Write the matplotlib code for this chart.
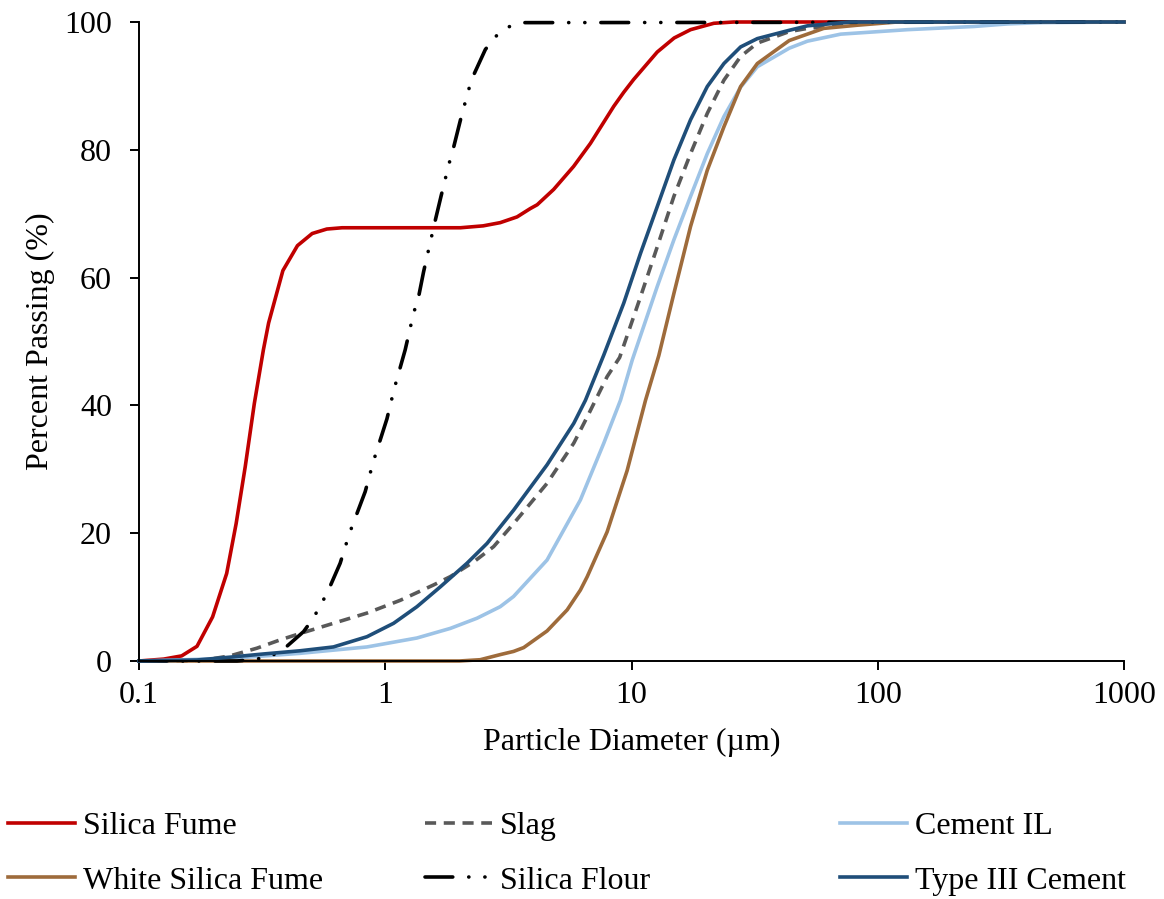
import matplotlib
matplotlib.use("Agg")
import matplotlib.pyplot as plt
from matplotlib.ticker import NullLocator

plt.rcParams["font.family"] = ["Liberation Serif", "DejaVu Serif"]
plt.rcParams["lines.scale_dashes"] = False

# particle diameter (um) / percent passing
sf_x = [0.1, 0.126, 0.149, 0.172, 0.199, 0.227, 0.248, 0.270, 0.294, 0.320, 0.336,
        0.384, 0.440, 0.505, 0.579, 0.668, 1.0, 2.02, 2.50, 2.93, 3.43, 3.88, 4.14,
        4.83, 5.82, 6.81, 8.47, 9.30, 10.2, 12.72, 14.9, 17.37, 21.6, 26.0, 1000]
sf_y = [0, 0.3, 0.8, 2.3, 6.9, 13.7, 21.5, 30.4, 40.3, 48.7, 52.9,
        61.1, 65.0, 66.9, 67.6, 67.8, 67.8, 67.8, 68.1, 68.6, 69.5, 70.8, 71.4,
        73.8, 77.4, 81.0, 86.8, 89.0, 91.0, 95.3, 97.5, 98.8, 99.8, 100, 100]

slag_x = [0.1, 0.16, 0.188, 0.234, 0.301, 0.374, 0.451, 0.616, 0.843, 1.151, 1.571,
          1.837, 2.285, 2.755, 3.32, 4.54, 5.83, 6.61, 7.96, 8.95, 10.88, 12.72,
          14.86, 17.37, 20.31, 23.73, 27.74, 32.43, 43.7, 51.8, 70.7, 100, 1000]
slag_y = [0, 0, 0.2, 0.8, 2.0, 3.3, 4.3, 5.9, 7.5, 9.5, 11.9,
          13.2, 15.5, 17.9, 21.5, 27.8, 34.1, 38.2, 44.5, 47.5, 57.0, 64.8,
          72.7, 79.4, 85.7, 90.9, 94.6, 96.7, 98.5, 99.0, 99.5, 100, 100]

cil_x = [0.1, 0.234, 0.451, 0.843, 1.345, 1.837, 2.36, 2.93, 3.32, 4.54, 6.20, 7.72,
         9.02, 10.07, 12.72, 14.86, 17.37, 20.31, 23.73, 27.74, 32.43, 43.7, 51.8,
         70.7, 132, 246, 337, 460, 1000]
cil_y = [0, 0.4, 1.2, 2.2, 3.6, 5.1, 6.7, 8.5, 10.1, 15.8, 25.2, 34.1,
         40.8, 47.1, 58.6, 65.9, 72.7, 79.4, 85.2, 89.8, 93.0, 95.9, 97.0,
         98.1, 98.8, 99.3, 99.7, 99.9, 100]

wsf_x = [0.1, 1.0, 2.0, 2.43, 2.93, 3.32, 3.65, 4.54, 5.48, 6.20, 6.61, 7.96, 9.60,
         11.4, 12.91, 14.86, 17.37, 20.31, 23.73, 27.74, 32.43, 43.7, 60.3, 82.7,
         120, 1000]
wsf_y = [0, 0, 0, 0.2, 1.0, 1.5, 2.1, 4.7, 8.0, 11.1, 13.2, 20.2, 29.8,
         40.8, 47.8, 57.5, 68.0, 76.8, 83.6, 89.9, 93.5, 97.1, 99.0, 99.5,
         100, 100]

flour_x = [0.1, 0.25, 0.287, 0.335, 0.380, 0.466, 0.508, 0.548, 0.588, 0.656, 0.716,
           0.829, 0.896, 1.016, 1.091, 1.205, 1.303, 1.366, 1.431, 1.586, 1.684,
           1.815, 1.884, 2.018, 2.18, 2.285, 2.55, 2.80, 3.14, 3.65, 1000]
flour_y = [0, 0, 0.2, 0.6, 1.6, 4.6, 6.6, 8.8, 11.1, 15.3, 20.0,
           26.5, 31.3, 37.9, 42.8, 48.7, 54.4, 57.0, 60.9, 68.5, 72.7,
           77.8, 80.0, 84.6, 89.4, 91.7, 95.7, 97.7, 99.2, 99.9, 100]

t3_x = [0.1, 0.172, 0.234, 0.320, 0.451, 0.616, 0.843, 1.081, 1.345, 1.673, 2.148,
        2.59, 3.32, 4.54, 5.83, 6.50, 7.72, 9.30, 10.88, 12.72, 14.86, 17.37,
        20.31, 23.73, 27.74, 32.43, 43.7, 51.8, 77.6, 1000]
t3_y = [0, 0.16, 0.6, 1.1, 1.6, 2.2, 3.8, 5.9, 8.5, 11.6, 15.3,
        18.4, 23.6, 30.7, 37.2, 40.8, 47.9, 56.0, 63.8, 71.1, 78.4, 84.7,
        89.9, 93.5, 96.1, 97.4, 98.7, 99.4, 100, 100]

x_ticks = [0.1, 1, 10, 100, 1000]
x_tick_labels = ["0.1", "1", "10", "100", "1000"]
y_ticks = [0, 20, 40, 60, 80, 100]

C_SF = "#C00000"
C_SLAG = "#595959"
C_CIL = "#9DC3E6"
C_WSF = "#9E6B3B"
C_FLOUR = "#000000"
C_T3 = "#1F4E79"

FS = 23
LW = 2.6

fig = plt.figure(figsize=(11.64, 8.99), dpi=100)
ax = fig.add_axes([139 / 1164, 1 - 661 / 899, (1124 - 139) / 1164, (661 - 22) / 899])

ax.plot(sf_x, sf_y, color=C_SF, lw=LW, label="Silica Fume", clip_on=False)
ax.plot(slag_x, slag_y, color=C_SLAG, lw=LW, ls=(0, (8, 5.5)),
        dash_capstyle="butt", label="Slag", clip_on=False)
ax.plot(cil_x, cil_y, color=C_CIL, lw=LW, label="Cement IL", clip_on=False)
ax.plot(wsf_x, wsf_y, color=C_WSF, lw=LW, label="White Silica Fume", clip_on=False)
ax.plot(flour_x, flour_y, color=C_FLOUR, lw=LW,
        ls=(0, (20, 11.5, 0.1, 11.5, 0.1, 11.5)), dash_capstyle="round",
        label="Silica Flour", clip_on=False)
ax.plot(t3_x, t3_y, color=C_T3, lw=LW, label="Type III Cement", clip_on=False)

ax.set_xscale("log")
ax.set_xlim(0.1, 1000)
ax.set_ylim(0, 100)
ax.xaxis.set_minor_locator(NullLocator())
ax.set_xticks(x_ticks)
ax.set_xticklabels(x_tick_labels)
ax.set_yticks(y_ticks)

for s in ["top", "right"]:
    ax.spines[s].set_visible(False)
for s in ["left", "bottom"]:
    ax.spines[s].set_linewidth(1.4)
ax.tick_params(axis="both", direction="out", length=6.5, width=1.4,
               labelsize=FS, colors="black")
ax.tick_params(axis="y", pad=13)
ax.tick_params(axis="x", pad=8)

ax.set_xlabel("Particle Diameter (\u00b5m)", fontsize=FS)
ax.set_ylabel("Percent Passing (%)", fontsize=FS)
ax.xaxis.set_label_coords(0.5, -0.127)
ax.xaxis.label.set_va("center")
ax.yaxis.set_label_coords(-0.1005, 0.5)
ax.yaxis.label.set_va("center")

handles, labels = ax.get_legend_handles_labels()
# legend laid out row by row: columns at fixed x positions
cols = [(0, 3), (1, 4), (2, 5)]
col_x = [8 / 1164, 425 / 1164, 840 / 1164]
for (i, j), x0 in zip(cols, col_x):
    fig.legend([handles[i], handles[j]], [labels[i], labels[j]],
               loc="center left", bbox_to_anchor=(x0, 1 - 853.5 / 899),
               frameon=False, fontsize=FS, handlelength=2.1, handletextpad=0.25,
               labelspacing=0.8, borderpad=0, borderaxespad=0)

fig.savefig("out.png", dpi=100, facecolor="white")
plt.close(fig)
